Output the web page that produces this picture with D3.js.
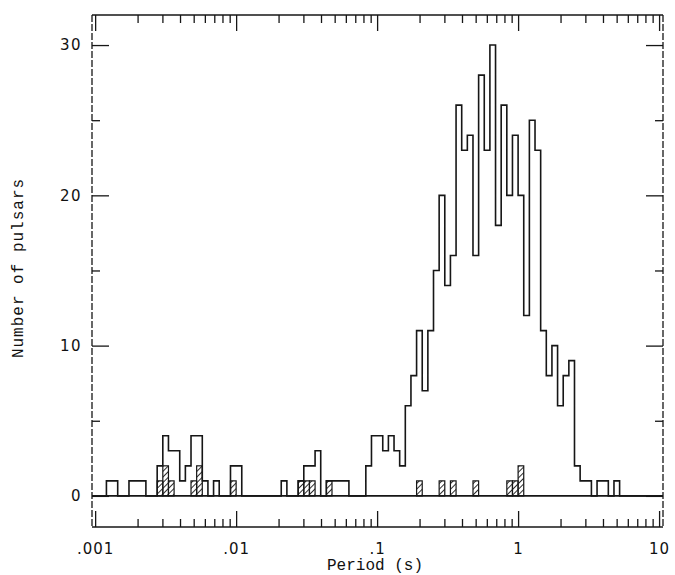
<!DOCTYPE html>
<html>
<head>
<meta charset="utf-8">
<script src="https://cdn.jsdelivr.net/npm/d3@7"></script>
<style>
  body { margin: 0; background: #fff; }
  svg { display: block; }
</style>
</head>
<body>
<svg id="chart" width="675" height="575"></svg>
<script>
// ---------------- DATA ----------------
// Histogram bins: 25 bins per decade, starting at P = 0.001 s
const binStartLog = -3;
const binWidthDex = 0.04;

// All pulsars, counts per bin (0.001 s ... 10 s)
const allCounts = [
  // 0.001 - 0.01 s
  0, 0, 1, 1, 0, 0, 1, 1, 1, 0,
  0, 2, 4, 3, 3, 1, 2, 4, 4, 1,
  0, 1, 0, 0, 2,
  // 0.01 - 0.1 s
  2, 0, 0, 0, 0, 0, 0, 0, 1, 0,
  0, 1, 2, 2, 3, 0, 1, 1, 1, 1,
  0, 0, 0, 2, 4,
  // 0.1 - 1 s
  4, 3, 4, 3, 2, 6, 8, 11, 7, 11,
  15, 20, 14, 16, 26, 23, 24, 16, 28, 23,
  30, 18, 26, 20, 24,
  // 1 - 10 s
  20, 12, 25, 23, 11, 8, 10, 6, 8, 9,
  2, 1, 1, 0, 1, 1, 0, 1, 0, 0,
  0, 0, 0, 0, 0
];

// Binary pulsars (hatched), counts per bin
const binaryCounts = [
  0, 0, 0, 0, 0, 0, 0, 0, 0, 0,
  0, 1, 2, 1, 0, 0, 0, 1, 2, 0,
  0, 0, 0, 0, 1,
  0, 0, 0, 0, 0, 0, 0, 0, 0, 0,
  0, 1, 1, 1, 0, 0, 1, 0, 0, 0,
  0, 0, 0, 0, 0,
  0, 0, 0, 0, 0, 0, 0, 1, 0, 0,
  0, 1, 0, 1, 0, 0, 0, 1, 0, 0,
  0, 0, 0, 1, 1,
  2, 0, 0, 0, 0, 0, 0, 0, 0, 0,
  0, 0, 0, 0, 0, 0, 0, 0, 0, 0,
  0, 0, 0, 0, 0
];

const xTickValues = [0.001, 0.01, 0.1, 1, 10];
const xTickLabels = [".001", ".01", ".1", "1", "10"];
const yTickValues = [0, 10, 20, 30];
const yMinorTickValues = [5, 15, 25];
const xAxisTitle = "Period (s)";
const yAxisTitle = "Number of pulsars";

// ---------------- SCALES ----------------
const svg = d3.select("#chart");
const x = d3.scaleLog().domain([0.00095, 10.66]).range([92, 663]);
const y = d3.scaleLinear().domain([-2.07, 32]).range([527, 15]);
const [x0, x1] = x.range();
const [yB, yT] = y.range();

const ink = "#161616";
const edge = i => Math.pow(10, binStartLog + i * binWidthDex);

// hatch pattern
const defs = svg.append("defs");
defs.append("pattern")
  .attr("id", "hatch")
  .attr("patternUnits", "userSpaceOnUse")
  .attr("width", 4).attr("height", 4)
  .attr("patternTransform", "rotate(45)")
  .append("line")
  .attr("x1", 0).attr("y1", 0).attr("x2", 0).attr("y2", 4)
  .attr("stroke", ink).attr("stroke-width", 1.8);

// ---------------- FRAME ----------------
const frame = svg.append("g");
frame.append("line").attr("x1", x0).attr("x2", x1).attr("y1", yT).attr("y2", yT)
  .attr("stroke", ink).attr("stroke-width", 1.5);
frame.append("line").attr("x1", x0).attr("x2", x1).attr("y1", yB).attr("y2", yB)
  .attr("stroke", ink).attr("stroke-width", 1.5);
frame.append("line").attr("x1", x0).attr("x2", x0).attr("y1", yT).attr("y2", yB)
  .attr("stroke", ink).attr("stroke-width", 1.3).attr("stroke-dasharray", "7,2");
frame.append("line").attr("x1", x1).attr("x2", x1).attr("y1", yT).attr("y2", yB)
  .attr("stroke", ink).attr("stroke-width", 1.3).attr("stroke-dasharray", "7,2");

// minor log ticks
const minorX = [];
for (let d = -3; d < 1; d++) for (let m = 2; m <= 9; m++) minorX.push(m * Math.pow(10, d));

function styleAxis(g) {
  g.select(".domain").remove();
  g.selectAll("line").attr("stroke", ink).attr("stroke-width", 1.3);
  g.selectAll("text").attr("fill", "#111");
}

// bottom axis (ticks point up)
svg.append("g").attr("transform", `translate(0,${yB})`)
  .call(d3.axisBottom(x).tickValues(xTickValues).tickFormat((d, i) => xTickLabels[i])
    .tickSizeInner(-16).tickSizeOuter(0).tickPadding(16))
  .call(styleAxis)
  .call(g => g.selectAll("text").attr("font-family", "DejaVu Sans, sans-serif")
    .attr("font-size", 15).attr("letter-spacing", 1));
svg.append("g").attr("transform", `translate(0,${yB})`)
  .call(d3.axisBottom(x).tickValues(minorX).tickFormat("").tickSizeInner(-8).tickSizeOuter(0))
  .call(styleAxis);

// top axis (ticks point down)
svg.append("g").attr("transform", `translate(0,${yT})`)
  .call(d3.axisTop(x).tickValues(xTickValues).tickFormat("").tickSizeInner(-16).tickSizeOuter(0))
  .call(styleAxis);
svg.append("g").attr("transform", `translate(0,${yT})`)
  .call(d3.axisTop(x).tickValues(minorX).tickFormat("").tickSizeInner(-8).tickSizeOuter(0))
  .call(styleAxis);

// left axis (ticks point right)
svg.append("g").attr("transform", `translate(${x0},0)`)
  .call(d3.axisLeft(y).tickValues(yTickValues).tickSizeInner(-17).tickSizeOuter(0).tickPadding(10))
  .call(styleAxis)
  .call(g => g.selectAll("text").attr("font-family", "DejaVu Sans, sans-serif")
    .attr("font-size", 15).attr("letter-spacing", 1.5));
svg.append("g").attr("transform", `translate(${x0},0)`)
  .call(d3.axisLeft(y).tickValues(yMinorTickValues).tickFormat("").tickSizeInner(-8).tickSizeOuter(0))
  .call(styleAxis);

// right axis (ticks point left)
svg.append("g").attr("transform", `translate(${x1},0)`)
  .call(d3.axisRight(y).tickValues(yTickValues).tickFormat("").tickSizeInner(-17).tickSizeOuter(0))
  .call(styleAxis);
svg.append("g").attr("transform", `translate(${x1},0)`)
  .call(d3.axisRight(y).tickValues(yMinorTickValues).tickFormat("").tickSizeInner(-8).tickSizeOuter(0))
  .call(styleAxis);

// zero line
svg.append("line").attr("x1", x0).attr("x2", x1).attr("y1", y(0)).attr("y2", y(0))
  .attr("stroke", ink).attr("stroke-width", 1.6);

// ---------------- BINARY PULSARS (hatched) ----------------
const binData = binaryCounts.map((c, i) => ({ i, c })).filter(d => d.c > 0);
svg.append("g").selectAll("rect").data(binData).join("rect")
  .attr("x", d => x(edge(d.i)))
  .attr("width", d => x(edge(d.i + 1)) - x(edge(d.i)))
  .attr("y", d => y(d.c))
  .attr("height", d => y(0) - y(d.c))
  .attr("fill", "url(#hatch)")
  .attr("stroke", ink).attr("stroke-width", 1.2);

// ---------------- ALL PULSARS (outline) ----------------
const pts = allCounts.map((c, i) => ({ p: edge(i), c }));
pts.push({ p: edge(allCounts.length), c: 0 });
const stepLine = d3.line().x(d => x(d.p)).y(d => y(d.c)).curve(d3.curveStepAfter);
svg.append("path").datum(pts)
  .attr("d", stepLine)
  .attr("fill", "none")
  .attr("stroke", ink)
  .attr("stroke-width", 1.6)
  .attr("stroke-linejoin", "miter");

// ---------------- TITLES ----------------
svg.append("text")
  .attr("x", 375).attr("y", 570)
  .attr("text-anchor", "middle")
  .attr("font-family", "Liberation Mono, monospace")
  .attr("font-size", 16)
  .attr("fill", "#111")
  .text(xAxisTitle);

svg.append("text")
  .attr("transform", "translate(23,268) rotate(-90)")
  .attr("text-anchor", "middle")
  .attr("font-family", "Liberation Mono, monospace")
  .attr("font-size", 16)
  .attr("letter-spacing", 1)
  .attr("fill", "#111")
  .text(yAxisTitle);
</script>
</body>
</html>
